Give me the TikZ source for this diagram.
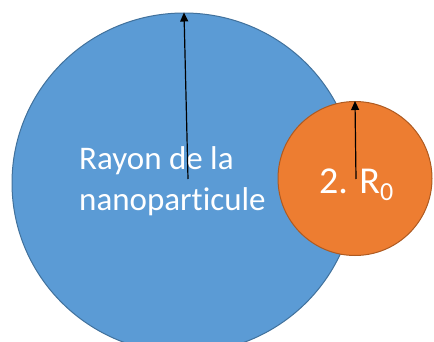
\documentclass[tikz,border=0pt]{standalone}
\usepackage{fontspec}
\setmainfont{Carlito}[Ligatures=NoCommon]
\usetikzlibrary{arrows.meta, positioning, shapes.geometric}

\definecolor{bleupart}{HTML}{5B9BD5}
\definecolor{bleubord}{HTML}{41719C}
\definecolor{orangepart}{HTML}{ED7D31}
\definecolor{orangebord}{HTML}{AE5A21}

\begin{document}
\begin{tikzpicture}[x=1pt, y=1pt,
    rayon/.style={-{Triangle[length=9pt, width=8pt]}, line width=1.2pt, black}]
  \useasboundingbox (0,0) rectangle (434,341);

  % Nanoparticle
  \node[ellipse, draw=bleubord, fill=bleupart, line width=1pt, inner sep=0pt,
        minimum width=344pt, minimum height=340pt] (particule) at (184,158) {};

  % Small sphere
  \node[circle, draw=orangebord, fill=orangepart, line width=1pt, inner sep=0pt,
        minimum size=154pt] (germe) at (355,162.5) {};

  % Labels
  \node[anchor=base west, align=left, inner sep=0pt, text=white,
        font=\fontsize{33}{41}\selectfont] (txtparticule) at (79,131)
        {Rayon de la\\nanoparticule};
  \node[anchor=base west, inner sep=0pt, text=white,
        font=\fontsize{38}{46}\selectfont] (txtgerme) at (319,148)
        {2. R\raisebox{-7pt}{\fontsize{26}{26}\selectfont 0}};

  % Radii
  \coordinate (cparticule) at (188,162);
  \coordinate (cgerme) at (356,162);
  \draw[rayon] (cparticule) -- (particule.north);
  \draw[rayon] (cgerme) -- (germe.north);
\end{tikzpicture}
\end{document}
